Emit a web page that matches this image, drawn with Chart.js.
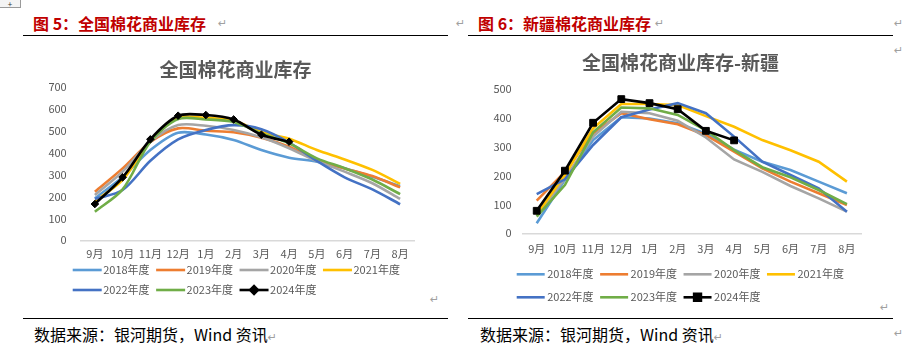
<!DOCTYPE html>
<html><head><meta charset="utf-8">
<script src="https://cdn.jsdelivr.net/npm/chart.js@4.4.1/dist/chart.umd.min.js"></script>
<style>
html,body{margin:0;padding:0;background:#fff;}
#page{position:relative;width:904px;height:355px;overflow:hidden;font-family:"Noto Sans CJK SC","Noto Sans",sans-serif;}
.abs{position:absolute;white-space:nowrap;}
.hdr{font-size:16px;font-weight:bold;color:#C00000;line-height:20px;}
.foot{font-size:16px;color:#000;line-height:20px;}
.rule{position:absolute;height:1px;background:#000;}
.ret{position:absolute;color:#a0a0a0;font-family:"DejaVu Sans",sans-serif;font-size:11px;line-height:12px;}
canvas{position:absolute;}
#handle{position:absolute;left:-1px;top:-6px;width:20px;height:12px;border:1px solid #9a9a9a;background:#f4f4f4;font-size:8px;line-height:18px;text-align:center;color:#333;}
</style></head>
<body><div id="page">
<div id="handle">+</div>
<div class="abs hdr" style="left:33px;top:13px;">图 5：全国棉花商业库存</div>
<div class="ret" style="left:218px;top:18px;">↵</div>
<div class="ret" style="left:456px;top:18px;">↵</div>
<div class="abs hdr" style="left:478px;top:13px;">图 6：新疆棉花商业库存</div>
<div class="ret" style="left:655px;top:18px;">↵</div>
<div class="ret" style="left:894px;top:18px;">↵</div>
<div class="ret" style="left:894px;top:45px;">↵</div>
<div class="rule" style="left:23px;top:35px;width:425px;"></div>
<div class="rule" style="left:468px;top:35px;width:425px;"></div>
<div class="ret" style="left:430px;top:294px;">↵</div>
<div class="ret" style="left:880px;top:302px;">↵</div>
<div class="rule" style="left:23px;top:318px;width:425px;"></div>
<div class="rule" style="left:468px;top:318px;width:425px;"></div>
<div class="abs foot" style="left:34px;top:324px;">数据来源：银河期货，Wind 资讯<span style="color:#a0a0a0;font-family:'DejaVu Sans';font-size:11px;">↵</span></div>
<div class="abs foot" style="left:480px;top:324px;">数据来源：银河期货，Wind 资讯<span style="color:#a0a0a0;font-family:'DejaVu Sans';font-size:11px;">↵</span></div>
<div class="ret" style="left:894px;top:328px;">↵</div>
<canvas id="c1" width="425" height="285" style="left:23px;top:42px;"></canvas>
<canvas id="c2" width="425" height="280" style="left:468px;top:38px;"></canvas>
</div>
<script>
// ---- categories & labels ----
const months = ['9月','10月','11月','12月','1月','2月','3月','4月','5月','6月','7月','8月'];
const seriesNames = ['2018年度','2019年度','2020年度','2021年度','2022年度','2023年度','2024年度'];
const seriesColors = ['#5B9BD5','#ED7D31','#A5A5A5','#FFC000','#4472C4','#70AD47','#000000'];

// ---- 图5 全国棉花商业库存 (万吨) ----
const nat2018 = [192, 290, 413, 492, 484, 459, 413, 378, 360, 330, 291, 248];
const nat2019 = [222, 329, 450, 512, 501, 494, 469, 428, 367, 329, 294, 242];
const nat2020 = [207, 314, 451, 527, 524, 505, 471, 421, 363, 314, 261, 189];
const nat2021 = [178, 276, 455, 560, 560, 548, 495, 465, 413, 370, 322, 258];
const nat2022 = [189, 230, 364, 462, 505, 527, 508, 447, 363, 288, 233, 165];
const nat2023 = [131, 233, 451, 555, 553, 541, 489, 444, 375, 330, 278, 211];
const nat2024 = [166, 288, 462, 570, 573, 553, 483, 451, null, null, null, null];
const natTicks = [0, 100, 200, 300, 400, 500, 600, 700];

// ---- 图6 新疆棉花商业库存 (万吨) ----
const xj2018 = [35, 185, 323, 402, 398, 381, 345, 290, 248, 219, 179, 139];
const xj2019 = [113, 213, 346, 416, 395, 378, 340, 283, 225, 179, 139, 98];
const xj2020 = [60, 190, 335, 421, 416, 390, 332, 256, 213, 164, 121, 75];
const xj2021 = [65, 202, 364, 448, 448, 444, 406, 369, 323, 288, 248, 179];
const xj2022 = [136, 187, 306, 402, 429, 451, 416, 335, 248, 202, 156, 75];
const xj2023 = [58, 167, 350, 436, 433, 410, 357, 288, 229, 194, 150, 101];
const xj2024 = [78, 217, 383, 465, 451, 430, 355, 322, null, null, null, null];
const xjTicks = [0, 100, 200, 300, 400, 500];

const FONT = '"Noto Sans CJK SC","Noto Sans",sans-serif';
const GREY = '#595959';

// moves the legend block to where the reference draws it
const legendShift = {
  id: 'legendShift',
  afterLayout(chart, args, opts) {
    const lg = chart.legend;
    if (!lg) return;
    lg.left += opts.dx; lg.right += opts.dx;
    lg.top += opts.dy; lg.bottom += opts.dy;
  }
};

// draws the line / marker samples in the legend
const legendLines = {
  id: 'legendLines',
  afterDraw(chart, args, opts) {
    const lg = chart.legend;
    if (!lg || !lg.legendHitBoxes) return;
    const ctx = chart.ctx;
    lg.legendItems.forEach((item, i) => {
      const hb = lg.legendHitBoxes[i];
      const ds = chart.data.datasets[item.datasetIndex];
      const y = hb.top + hb.height / 2;
      ctx.save();
      ctx.strokeStyle = ds.borderColor;
      ctx.lineWidth = ds.borderWidth;
      ctx.lineCap = 'butt';
      ctx.beginPath();
      ctx.moveTo(hb.left + opts.x0, y);
      ctx.lineTo(hb.left + opts.x1, y);
      ctx.stroke();
      if (ds.pointRadius > 0) {
        ctx.fillStyle = ds.pointBackgroundColor;
        ctx.strokeStyle = ds.pointBorderColor;
        Chart.helpers.drawPoint(ctx, {pointStyle: ds.pointStyle, radius: ds.pointRadius, borderWidth: 1, rotation: 0},
          hb.left + (opts.x0 + opts.x1) / 2, y);
      }
      ctx.restore();
    });
  }
};

function makeDatasets(arrs, smooth, marker, markerR) {
  return arrs.map((d, i) => {
    const isLast = i === arrs.length - 1;
    return {
      label: seriesNames[i],
      data: d,
      borderColor: seriesColors[i],
      backgroundColor: seriesColors[i],
      borderWidth: 2.6,
      tension: smooth,
      pointRadius: isLast ? markerR : 0,
      pointHoverRadius: isLast ? markerR : 0,
      pointStyle: marker,
      pointBackgroundColor: '#000',
      pointBorderColor: '#000',
      pointBorderWidth: 1,
      spanGaps: false,
      order: arrs.length - 1 - i,
      fill: false
    };
  });
}

function makeChart(id, arrs, ticks, cfg) {
  return new Chart(document.getElementById(id), {
    type: 'line',
    data: { labels: months, datasets: makeDatasets(arrs, cfg.tension, cfg.marker, cfg.markerR) },
    plugins: [legendShift, legendLines],
    options: {
      responsive: false,
      animation: false,
      events: [],
      layout: { padding: cfg.padding },
      plugins: {
        tooltip: { enabled: false },
        title: {
          display: true, text: cfg.title, color: GREY,
          font: { family: FONT, size: 19, weight: 'bold', lineHeight: 1.2 },
          padding: { top: cfg.titleTop, bottom: cfg.titleBottom }
        },
        legend: {
          display: true, position: 'bottom', align: 'start',
          labels: {
            color: GREY, font: { family: FONT, size: 11 },
            boxWidth: 25, boxHeight: cfg.boxHeight, padding: 6.5,
            generateLabels: (chart) => chart.data.datasets.map((ds, i) => ({
              text: ds.label, fillStyle: 'rgba(0,0,0,0)', strokeStyle: 'rgba(0,0,0,0)',
              lineWidth: 0, hidden: false, datasetIndex: i, fontColor: GREY
            }))
          }
        },
        legendShift: { dx: cfg.dx, dy: cfg.dy },
        legendLines: { x0: 0, x1: cfg.lineLen }
      },
      scales: {
        x: {
          offset: true,
          grid: { display: false, drawTicks: false },
          border: { display: true, color: '#d9d9d9', width: 1.5 },
          ticks: { color: GREY, font: { family: FONT, size: 11 }, padding: cfg.xPad, maxRotation: 0, autoSkip: false },
          afterFit: (s) => { s.height = cfg.xHeight; s.paddingRight = cfg.rightInset; s.paddingLeft = 0; }
        },
        y: {
          min: ticks[0], max: ticks[ticks.length - 1],
          afterBuildTicks: (s) => { s.ticks = ticks.map(v => ({ value: v })); },
          grid: { display: false, drawTicks: false },
          border: { display: false },
          ticks: { color: GREY, font: { family: FONT, size: 11 }, padding: cfg.yPad },
          afterFit: (s) => { s.width = cfg.yWidth; }
        }
      }
    }
  });
}

makeChart('c1', [nat2018, nat2019, nat2020, nat2021, nat2022, nat2023, nat2024], natTicks, {
  title: '全国棉花商业库存', tension: 0.3, marker: 'rectRot', markerR: 3.8,
  padding: { left: 20, right: 20, top: 0, bottom: 12.7 },
  titleTop: 16.6, titleBottom: 5.9, boxHeight: 13.5, lineLen: 29,
  xPad: 7.1, xHeight: 24, rightInset: 34, yPad: 14.3, yWidth: 38,
  dx: 23.2, dy: -7.55
});

makeChart('c2', [xj2018, xj2019, xj2020, xj2021, xj2022, xj2023, xj2024], xjTicks, {
  title: '全国棉花商业库存-新疆', tension: 0, marker: 'rect', markerR: 4.8,
  padding: { left: 20, right: 20, top: 0, bottom: 2.45 },
  titleTop: 13.4, titleBottom: 14.8, boxHeight: 16.5, lineLen: 28,
  xPad: 9.4, xHeight: 26.25, rightInset: 32, yPad: 10.9, yWidth: 34.6,
  dx: 22.2, dy: 0
});
</script>
</body></html>
